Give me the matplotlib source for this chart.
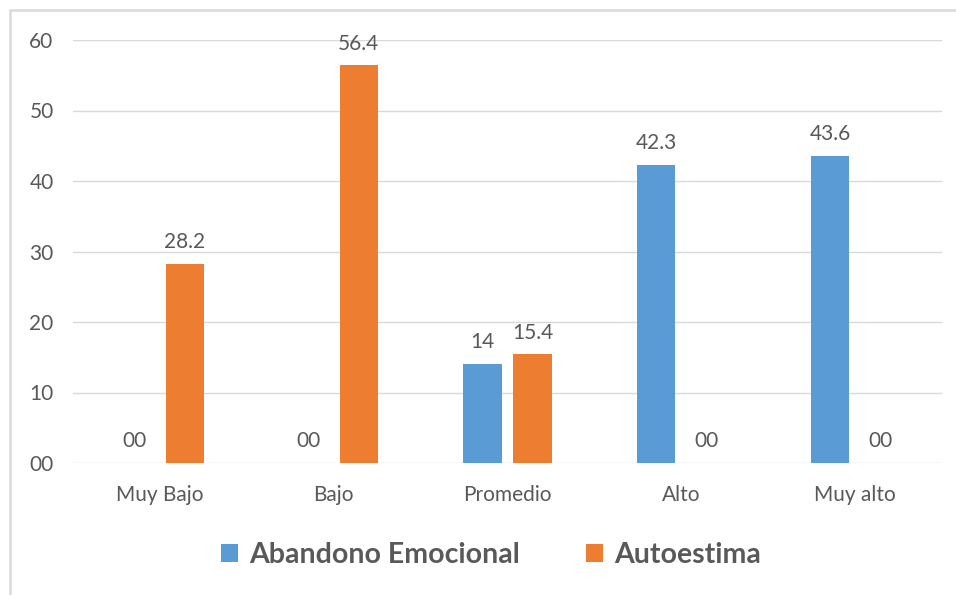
import matplotlib
matplotlib.use("Agg")
import matplotlib.pyplot as plt
from matplotlib.patches import Rectangle
import numpy as np

categories = ["Muy Bajo", "Bajo", "Promedio", "Alto", "Muy alto"]
abandono = [0, 0, 14, 42.3, 43.6]
autoestima = [28.2, 56.4, 15.4, 0, 0]
series_names = ["Abandono Emocional", "Autoestima"]
y_ticks = [0, 10, 20, 30, 40, 50, 60]
y_tick_labels = ["00", "10", "20", "30", "40", "50", "60"]

blue = "#5b9bd5"
orange = "#ed7d31"
text_col = "#595959"
grid_col = "#d9d9d9"

plt.rcParams["font.family"] = ["Lato", "DejaVu Sans"]

W, H = 956, 595
fig = plt.figure(figsize=(W / 100, H / 100), dpi=100)

# chart frame
fig.patches.append(Rectangle((10 / W, 0 - 0.01), 1.05, 1 - 10 / H + 0.01,
                             transform=fig.transFigure, fill=False,
                             edgecolor=grid_col, linewidth=1.8))

ax = fig.add_axes([73 / W, 1 - 463 / H, (942 - 73) / W, (463 - 40) / H])

x = np.arange(len(categories))
bw = 0.219
off = 0.144
b1 = ax.bar(x - off, abandono, bw, color=blue, label=series_names[0], zorder=3)
b2 = ax.bar(x + off, autoestima, bw, color=orange, label=series_names[1], zorder=3)


def fmt(v):
    return "00" if v == 0 else f"{v:g}"


for bars, vals in ((b1, abandono), (b2, autoestima)):
    for rect, v in zip(bars, vals):
        ax.annotate(fmt(v), (rect.get_x() + rect.get_width() / 2, v),
                    xytext=(0, 8.5), textcoords="offset points",
                    ha="center", va="bottom", fontsize=15, color=text_col)

ax.set_xlim(-0.5, len(categories) - 0.5)
ax.set_ylim(0, 60)
ax.set_yticks(y_ticks)
ax.set_yticklabels(y_tick_labels)
ax.set_xticks(x)
ax.set_xticklabels(categories)
ax.tick_params(axis="both", length=0, labelsize=15, labelcolor=text_col)
ax.tick_params(axis="y", pad=14)
ax.tick_params(axis="x", pad=16)
ax.grid(axis="y", color=grid_col, linewidth=1, zorder=0)
for s in ax.spines.values():
    s.set_visible(False)

leg = fig.legend(handles=[b1, b2], labels=series_names, loc="center",
                 bbox_to_anchor=(491 / W, 1 - 555 / H), ncol=2, frameon=False,
                 prop={"weight": "bold", "size": 20.5}, handlelength=0.6,
                 handleheight=0.6, handletextpad=0.4, columnspacing=2.3)
for t in leg.get_texts():
    t.set_color(text_col)

fig.savefig("out.png", dpi=100, facecolor="white")
